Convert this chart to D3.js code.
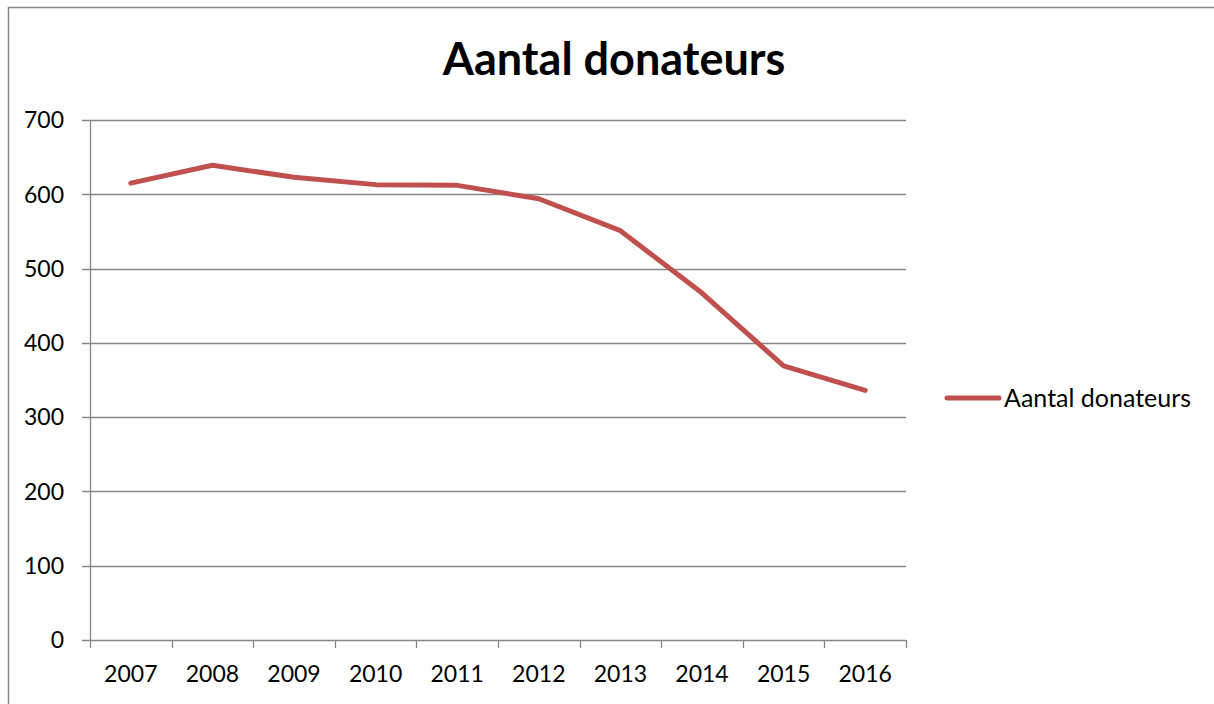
<!DOCTYPE html>
<html>
<head>
<meta charset="utf-8">
<script src="https://cdn.jsdelivr.net/npm/d3@7"></script>
<style>
  body { margin: 0; background: #fff; overflow: hidden; }
  text { font-family: Lato, "Open Sans", sans-serif; fill: #000; }
</style>
</head>
<body>
<div class="chart"></div>
<script>
// aantal donateurs per jaar
const years = ["2007","2008","2009","2010","2011","2012","2013","2014","2015","2016"];
const donors = [615, 639, 623, 613, 612, 594, 551, 467, 369, 336];
const yTicks = [0, 100, 200, 300, 400, 500, 600, 700];
const seriesName = "Aantal donateurs";
const title = "Aantal donateurs";

function chart(){
    const W = 1214, H = 704;
    const margin = {top:120, left:90, right:308, bottom:64};
    const width = W - margin.left - margin.right,
        height = H - margin.top - margin.bottom;

    const svg = d3.select('.chart').append('svg')
        .attr("width", W)
        .attr("height", H)
        .style("display", "block");

    // chart border: only the left and top edges are in view
    svg.append("path")
        .attr("d", `M8.5,${H} V7.5 H${W}`)
        .attr("fill", "none")
        .attr("stroke", "#878787")
        .attr("stroke-width", 1.5);

    const g = svg.append("g")
        .attr("transform", "translate(" + margin.left + "," + margin.top + ")");

    const xScale = d3.scaleBand()
        .domain(years)
        .range([0, width]);

    const yScale = d3.scaleLinear()
        .domain([0, 700])
        .range([height, 0]);

    // gridlines
    g.append("g")
        .selectAll("line")
        .data(yTicks)
        .enter()
        .append("line")
        .attr("x1", -8)
        .attr("x2", width)
        .attr("y1", d=>Math.round(yScale(d))+0.5)
        .attr("y2", d=>Math.round(yScale(d))+0.5)
        .attr("stroke", "#868686")
        .attr("stroke-width", 1.3);

    // y axis line
    g.append("line")
        .attr("x1", 0.5).attr("x2", 0.5)
        .attr("y1", 0).attr("y2", height)
        .attr("stroke", "#868686")
        .attr("stroke-width", 1.3);

    g.append("g")
        .selectAll("text")
        .data(yTicks)
        .enter()
        .append("text")
        .attr("x", -26)
        .attr("y", d=>yScale(d))
        .attr("dy", "0.36em")
        .attr("text-anchor", "end")
        .style("font-size", "23px")
        .text(d=>d);

    // x axis tick marks at category boundaries
    const bounds = years.map(d=>xScale(d)).concat([width]);
    g.append("g")
        .selectAll("line")
        .data(bounds)
        .enter()
        .append("line")
        .attr("x1", d=>Math.round(d)+0.5)
        .attr("x2", d=>Math.round(d)+0.5)
        .attr("y1", height)
        .attr("y2", height + 8)
        .attr("stroke", "#868686")
        .attr("stroke-width", 1.3);

    g.append("g")
        .selectAll("text")
        .data(years)
        .enter()
        .append("text")
        .attr("x", d=>xScale(d) + xScale.bandwidth()/2)
        .attr("y", height + 42)
        .attr("text-anchor", "middle")
        .style("font-size", "23px")
        .text(d=>d);

    // the line
    const line = d3.line()
        .x((d,i)=>xScale(years[i]) + xScale.bandwidth()/2)
        .y(d=>yScale(d));

    g.append("path")
        .datum(donors)
        .attr("d", line)
        .attr("fill", "none")
        .attr("stroke", "#C0504D")
        .attr("stroke-width", 5)
        .attr("stroke-linecap", "round")
        .attr("stroke-linejoin", "round");

    // title
    svg.append("text")
        .attr("x", 614)
        .attr("y", 75)
        .attr("text-anchor", "middle")
        .style("font-size", "45px")
        .style("font-weight", "bold")
        .text(title);

    // legend
    let legend = svg.append("g").attr("id", "legend");
    legend.append("line")
        .attr("x1", 947).attr("x2", 999)
        .attr("y1", 398).attr("y2", 398)
        .attr("stroke", "#C0504D")
        .attr("stroke-width", 5)
        .attr("stroke-linecap", "round");
    legend.append("text")
        .attr("x", 1004)
        .attr("y", 398)
        .attr("dy", "0.36em")
        .style("font-size", "25px")
        .text(seriesName);
}

chart();
</script>
</body>
</html>
